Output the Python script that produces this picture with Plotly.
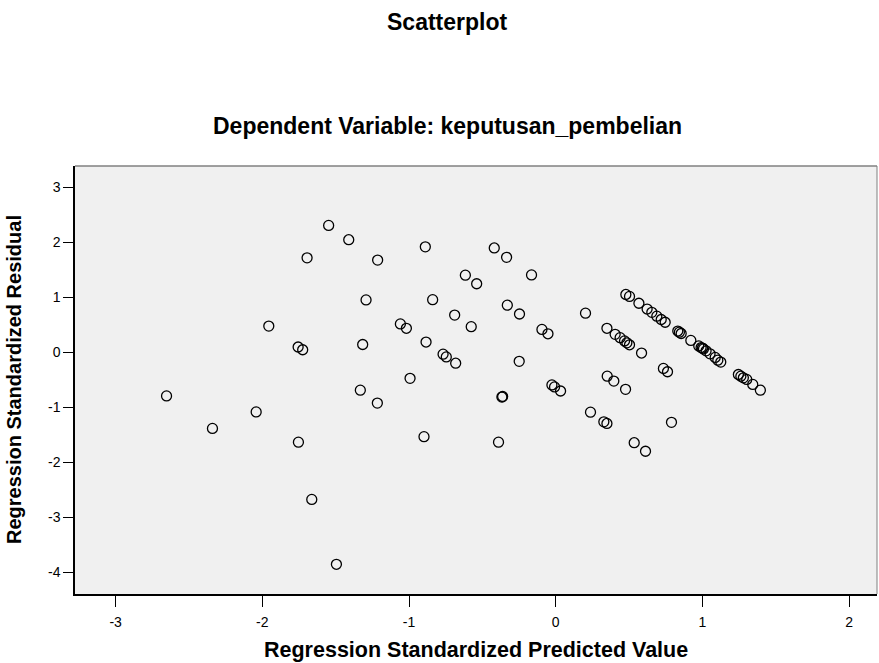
import plotly.graph_objects as go

pred = [-1.548, -1.411, -1.695, -1.293, -1.956, -1.756, -1.725, -1.316,
        -1.214, -0.889, -0.419, -0.335, -0.616, -0.539, -0.165, -0.839,
        -0.330, -0.247, -0.689, -1.059, -1.018, -0.576, -0.094, -0.053,
        0.203, 0.349, 0.405, -0.884, -0.768, -0.746, -0.682, -0.249,
        -0.993, -1.332, -1.216, -0.898, -0.367, -0.362, -0.390,
        -0.026, -0.008, 0.033, 0.351, 0.396, 0.476, 0.237, 0.328, 0.349,
        0.535, 0.612, 0.789, 0.734, 0.762,
        0.478, 0.503, 0.567, 0.623, 0.655, 0.689, 0.719, 0.746,
        0.439, 0.469, 0.485, 0.503, 0.585,
        0.832, 0.843, 0.855, 0.921, 0.975, 0.991, 1.000, 1.007, 1.025,
        1.052, 1.087, 1.105, 1.125, 1.245, 1.262, 1.279, 1.302, 1.343, 1.395,
        -2.653, -2.340, -2.042, -1.754, -1.663, -1.495]
resid = [2.31, 2.05, 1.72, 0.956, 0.48, 0.10, 0.05, 0.145,
         1.68, 1.92, 1.90, 1.73, 1.405, 1.25, 1.41, 0.96,
         0.86, 0.70, 0.68, 0.52, 0.44, 0.47, 0.42, 0.34,
         0.715, 0.44, 0.33, 0.19, -0.03, -0.08, -0.195, -0.16,
         -0.47, -0.685, -0.92, -1.53, -0.81, -0.80, -1.63,
         -0.59, -0.625, -0.70, -0.43, -0.52, -0.67, -1.085, -1.26, -1.29,
         -1.64, -1.795, -1.27, -0.29, -0.35,
         1.055, 1.02, 0.895, 0.79, 0.73, 0.66, 0.60, 0.55,
         0.27, 0.21, 0.175, 0.14, -0.01,
         0.39, 0.37, 0.345, 0.22, 0.12, 0.09, 0.08, 0.065, 0.03,
         -0.025, -0.09, -0.14, -0.175, -0.40, -0.43, -0.46, -0.49, -0.58, -0.685,
         -0.79, -1.38, -1.08, -1.63, -2.67, -3.85]

x_ticks = [-3, -2, -1, 0, 1, 2]
y_ticks = [-4, -3, -2, -1, 0, 1, 2, 3]

W, H = 879, 663
ML, MR, MT, MB = 75, 2, 166, 69
PW = W - ML - MR

fig = go.Figure()
fig.add_trace(go.Scatter(
    x=pred, y=resid, mode="markers",
    marker=dict(symbol="circle-open", size=10, color="black",
                line=dict(width=1.3, color="black")),
    showlegend=False, hoverinfo="skip"))

title_x = (447 - ML) / PW

fig.update_layout(
    width=W, height=H,
    margin=dict(l=ML, r=MR, t=MT, b=MB),
    paper_bgcolor="white", plot_bgcolor="#f0f0f0",
    font=dict(family="Liberation Sans, Arial, sans-serif", color="black"),
    xaxis=dict(range=[-3.277, 2.19], tickvals=x_ticks,
               ticktext=[str(v) for v in x_ticks],
               showgrid=False, zeroline=False, ticks="outside", ticklen=11,
               tickcolor="black", tickwidth=1, showline=True, linecolor="black",
               linewidth=1.5, tickfont=dict(size=14), ticklabelstandoff=3),
    yaxis=dict(range=[-4.39, 3.39], tickvals=y_ticks,
               ticktext=[str(v) for v in y_ticks],
               showgrid=False, zeroline=False, ticks="outside", ticklen=10,
               tickcolor="black", tickwidth=1, showline=True, linecolor="black",
               linewidth=1.5, tickfont=dict(size=14)),
    shapes=[
        dict(type="line", xref="paper", yref="paper", x0=0, x1=1, y0=1, y1=1,
             line=dict(color="#808080", width=1.5)),
        dict(type="line", xref="paper", yref="paper", x0=1, x1=1, y0=0, y1=1,
             line=dict(color="#808080", width=1)),
    ],
    annotations=[
        dict(text="<b>Scatterplot</b>", xref="paper", yref="paper",
             x=title_x, y=1.0, yshift=144, showarrow=False,
             font=dict(size=23), xanchor="center", yanchor="middle"),
        dict(text="<b>Dependent Variable: keputusan_pembelian</b>", xref="paper",
             yref="paper", x=title_x, y=1.0, yshift=40, showarrow=False,
             font=dict(size=23), xanchor="center", yanchor="middle"),
        dict(text="<b>Regression Standardized Predicted Value</b>", xref="paper",
             yref="paper", x=0.5, y=0, yshift=-56, showarrow=False,
             font=dict(size=21.5), xanchor="center", yanchor="middle"),
        dict(text="<b>Regression Standardized Residual</b>", xref="paper",
             yref="paper", x=0, xshift=-61, y=0.5, showarrow=False, textangle=-90,
             font=dict(size=20), xanchor="center", yanchor="middle"),
    ],
)

fig.write_html("out.html", config={"displayModeBar": False},
               post_script="document.body.style.margin='0';")
